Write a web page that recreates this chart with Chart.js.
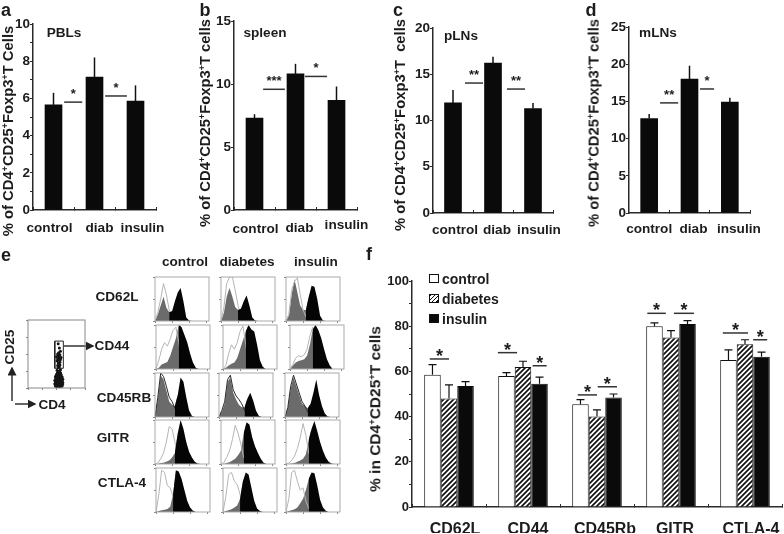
<!DOCTYPE html>
<html>
<head>
<meta charset="utf-8">
<script src="https://cdn.jsdelivr.net/npm/chart.js@4"></script>
<style>
  body { margin: 0; background: #fff; }
  #page { position: relative; width: 784px; height: 534px; overflow: hidden; font-family: "Liberation Sans", sans-serif; font-weight: bold; color: #1c1c1c; filter: blur(0.4px); }
  #page canvas { position: absolute; }
  .txt { position: absolute; white-space: nowrap; transform: translate(-50%, -50%); line-height: 1; }
  .txt sup { font-size: 60%; line-height: 0; vertical-align: 0.55em; }
  .swatch { position: absolute; width: 8px; height: 7px; border: 1px solid #111; }
  svg { position: absolute; left: 0; top: 0; }
</style>
</head>
<body>
<div id="page">
  <svg width="784" height="534">
    <defs>
      <marker id="head" markerWidth="6" markerHeight="6" refX="5" refY="3" orient="auto">
        <path d="M0,0 L6,3 L0,6 Z" fill="#222"></path>
      </marker>
    </defs>
    <line x1="12" y1="401" x2="12" y2="368" stroke="#333" stroke-width="1.5" marker-end="url(#head)"></line>
    <line x1="15" y1="404" x2="35" y2="404" stroke="#333" stroke-width="1.5" marker-end="url(#head)"></line>
    <line x1="64" y1="346" x2="93" y2="346" stroke="#333" stroke-width="1.5" marker-end="url(#head)"></line>
  </svg>
</div>
<script>
const groupLabels = ["control", "diab", "insulin"];

const valuesA = [5.65, 7.15, 5.85];
const errTopA = [6.3, 8.2, 6.7];
const valuesB = [7.3, 10.8, 8.7];
const errTopB = [7.6, 11.6, 9.8];
const valuesC = [11.9, 16.2, 11.3];
const errTopC = [13.3, 16.9, 11.9];
const valuesD = [12.7, 18, 14.9];
const errTopD = [13.3, 19.8, 15.5];

// [from, to, value, stars], from/to in category units
const sigA = [[0.26, 0.7, 5.8, "*"], [1.26, 1.79, 6.13, "*"]];
const sigB = [[0.21, 0.74, 9.58, "***"], [1.23, 1.77, 10.6, "*"]];
const sigC = [[0.3, 0.75, 14.05, "**"], [1.35, 1.8, 13.4, "**"]];
const sigD = [[0.27, 0.72, 14.8, "**"], [1.26, 1.61, 16.67, "*"]];

const markerLabels = ["CD62L", "CD44", "CD45Rb", "GITR", "CTLA-4"];
const controlValues = [58.5, 58, 45.5, 80, 65];
const controlErrTop = [63, 59.5, 47.5, 81.5, 69.5];
const diabetesValues = [48, 62, 40, 75, 72];
const diabetesErrTop = [54, 64.5, 43, 78, 74];
const insulinValues = [53.5, 54.5, 48.5, 81, 66.5];
const insulinErrTop = [55.5, 57.5, 50, 82.5, 68.5];
const sigF = [
  [-0.26, 0.0, 65.5, "*"], [0.66, 0.92, 68.3, "*"], [1.13, 1.32, 62.5, "*"],
  [1.74, 2.0, 49.6, "*"], [2.01, 2.27, 53.2, "*"], [2.68, 2.93, 85.7, "*"],
  [3.04, 3.31, 85.7, "*"], [3.7, 4.04, 77, "*"], [4.11, 4.3, 74, "*"],
];

// flow histograms, one row per marker, one list per column (control, diabetes, insulin)
const filledCd62l = [
  [0, 15, 35, 55, 30, 20, 22, 45, 65, 75, 45, 8, 1, 0],
  [0, 18, 55, 75, 55, 32, 25, 28, 45, 58, 35, 8, 1, 0],
  [0, 12, 60, 95, 65, 35, 25, 25, 55, 80, 78, 50, 12, 1, 0],
];
const outlineCd62l = [
  [0, 20, 50, 85, 60, 25, 12, 5, 2, 0],
  [0, 30, 85, 100, 100, 70, 35, 12, 4, 1, 0],
  [0, 15, 70, 90, 98, 60, 25, 10, 3, 0],
];
const gatesCd62l = [5, 6, 7];

const filledCd44 = [
  [0, 3, 10, 13, 16, 30, 50, 70, 100, 95, 78, 60, 35, 15, 3, 0],
  [0, 3, 8, 12, 15, 25, 45, 65, 85, 100, 90, 85, 55, 20, 5, 0],
  [0, 8, 15, 18, 20, 22, 30, 55, 90, 100, 88, 70, 45, 22, 8, 0],
];
const outlineCd44 = [
  [0, 20, 45, 60, 52, 68, 88, 95, 60, 20, 5, 0],
  [0, 8, 35, 55, 45, 60, 85, 98, 55, 15, 3, 0],
  [0, 10, 25, 30, 28, 32, 45, 75, 95, 50, 15, 3, 0],
];
const gatesCd44 = [8, 8, 8];

const filledCd45rb = [
  [0, 40, 95, 85, 60, 35, 28, 25, 50, 90, 80, 45, 15, 2, 0],
  [0, 12, 30, 80, 90, 55, 40, 28, 22, 22, 42, 55, 38, 15, 3, 0],
  [0, 20, 65, 90, 70, 50, 30, 25, 20, 30, 55, 85, 50, 25, 8, 1, 0],
];
const outlineCd45rb = [
  [0, 45, 100, 92, 70, 45, 35, 20, 8, 0],
  [0, 15, 35, 85, 95, 62, 48, 40, 30, 15, 5, 0],
  [0, 22, 70, 95, 75, 55, 35, 25, 12, 3, 0],
];
const gatesCd45rb = [7, 9, 8];

const filledGitr = [
  [0, 0, 2, 3, 5, 8, 15, 25, 70, 100, 80, 50, 28, 15, 5, 1, 0],
  [0, 0, 2, 4, 8, 12, 20, 30, 70, 95, 90, 60, 40, 25, 12, 3, 0],
  [0, 0, 1, 2, 5, 8, 12, 22, 55, 80, 98, 75, 50, 30, 15, 5, 1, 0],
];
const outlineGitr = [
  [0, 2, 12, 25, 50, 85, 80, 50, 20, 8, 2, 0],
  [0, 3, 15, 30, 55, 88, 70, 45, 15, 5, 0],
  [0, 2, 8, 18, 35, 60, 92, 65, 25, 10, 3, 0],
];
const gatesGitr = [7, 8, 8];

const filledCtla4 = [
  [0, 2, 4, 5, 7, 12, 40, 95, 92, 75, 50, 25, 10, 3, 0],
  [0, 2, 4, 6, 10, 15, 30, 70, 90, 85, 55, 25, 8, 2, 0],
  [0, 2, 4, 6, 10, 20, 30, 50, 75, 90, 88, 60, 28, 10, 3, 0],
];
const outlineCtla4 = [
  [0, 40, 95, 90, 60, 55, 35, 15, 5, 0],
  [0, 35, 85, 90, 70, 62, 40, 15, 5, 0],
  [0, 30, 90, 95, 70, 50, 55, 25, 8, 2, 0],
];
const gatesCtla4 = [6, 6, 8];

const histChannels = ["0", "1", "2", "3", "4", "5", "6", "7", "8", "9", "10", "11", "12", "13", "14", "15", "16", "17", "18", "19"];

// CD25 vs CD4 dot plot, percent of the frame
const dotX = [54, 51, 57, 48, 60, 52, 56, 49, 59, 54, 47, 61, 50, 58, 54, 52, 56, 48, 60, 50, 58, 54, 51, 57, 52, 56, 48, 61, 50, 58, 54, 52, 56, 49, 59, 48, 60, 54, 52, 56, 50, 58, 54, 51, 57, 53, 55, 54, 51, 57, 49, 59, 53, 55, 47, 61, 50, 58, 52, 56, 49, 59, 54, 51, 57, 48, 60, 53, 55, 50, 58, 54, 56, 52, 53, 55, 51, 57, 53, 55, 52, 56, 54, 53, 56, 51, 55, 57, 52, 54, 58, 50, 55, 53, 56, 52, 54, 57, 55, 53];
const dotY = [1, 2, 2, 3, 3, 4, 4, 5, 5, 5, 6, 6, 7, 7, 7, 8, 8, 9, 9, 10, 10, 10, 11, 11, 12, 12, 12, 13, 13, 13, 14, 14, 14, 15, 15, 16, 16, 16, 17, 17, 17, 18, 18, 19, 19, 20, 20, 21, 21, 22, 3, 4, 6, 9, 11, 8, 3, 12, 2, 15, 18, 14, 3, 17, 6, 7, 11, 1, 3, 20, 20, 22, 23, 23, 24, 25, 26, 27, 30, 31, 33, 34, 36, 37, 38, 40, 41, 42, 43, 44, 45, 46, 47, 48, 49, 50, 52, 54, 59, 65];
const gateBoxX = [47, 62, 62, 47, 47];
const gateBoxY = [29, 29, 69, 69, 29];

const inkColor = "#2a2a2a";
const fontFamily = '"Liberation Sans", sans-serif';
const page = document.getElementById("page");

function addText(html, x, y, size, rotate) {
  const el = document.createElement("div");
  el.className = "txt";
  el.innerHTML = html;
  el.style.left = `${x}px`;
  el.style.top = `${y}px`;
  el.style.fontSize = `${size}px`;
  if (rotate) {
    el.style.transform = `translate(-50%, -50%) rotate(${rotate}deg)`;
  }
  page.appendChild(el);
  return el;
}

function addCanvas(left, top, width, height) {
  const canvas = document.createElement("canvas");
  canvas.width = width;
  canvas.height = height;
  canvas.style.left = `${left}px`;
  canvas.style.top = `${top}px`;
  page.appendChild(canvas);
  return canvas;
}

function hatchPattern() {
  const tile = document.createElement("canvas");
  tile.width = 5;
  tile.height = 5;
  const t = tile.getContext("2d");
  t.fillStyle = "#fff";
  t.fillRect(0, 0, 5, 5);
  t.strokeStyle = "#111";
  t.lineWidth = 1.7;
  t.beginPath();
  t.moveTo(-1, 6);
  t.lineTo(6, -1);
  t.moveTo(-1, 1);
  t.lineTo(1, -1);
  t.moveTo(4, 6);
  t.lineTo(6, 4);
  t.stroke();
  return t.createPattern(tile, "repeat");
}

// whiskers, significance bars and shifted x labels (the labels sit off-centre in the original)
const barMarks = {
  id: "barMarks",
  beforeDraw(chart) {
    const opts = chart.options.plugins.barMarks;
    chart.scales.x.getLabelItems().forEach((item, i) => {
      if (!item.shifted) {
        item.options.translation[0] += opts.labelShift[i][0];
        item.options.translation[1] += opts.labelShift[i][1];
        item.shifted = true;
      }
    });
  },
  afterDatasetsDraw(chart) {
    const opts = chart.options.plugins.barMarks;
    const { ctx, scales } = chart;
    ctx.save();
    ctx.strokeStyle = "#111";
    ctx.lineWidth = opts.whiskerWidth;
    opts.errTops.forEach((tops, d) => {
      chart.getDatasetMeta(d).data.forEach((bar, i) => {
        const yTop = scales.y.getPixelForValue(tops[i]);
        ctx.beginPath();
        ctx.moveTo(bar.x, bar.y);
        ctx.lineTo(bar.x, yTop);
        if (opts.cap) {
          ctx.moveTo(bar.x - opts.cap, yTop);
          ctx.lineTo(bar.x + opts.cap, yTop);
        }
        ctx.stroke();
      });
    });
    ctx.strokeStyle = "#333";
    ctx.lineWidth = 1.5;
    ctx.fillStyle = "#1c1c1c";
    ctx.font = `bold ${opts.starSize}px ${fontFamily}`;
    ctx.textAlign = "center";
    ctx.textBaseline = "alphabetic";
    opts.sig.forEach(([from, to, value, stars]) => {
      const x1 = scales.x.getPixelForValue(from);
      const x2 = scales.x.getPixelForValue(to);
      const y = scales.y.getPixelForValue(value);
      ctx.beginPath();
      ctx.moveTo(x1, y);
      ctx.lineTo(x2, y);
      ctx.stroke();
      ctx.fillText(stars, (x1 + x2) / 2, y + opts.starDrop);
    });
    ctx.restore();
  },
};

function barChart(p) {
  const yWidth = 30;
  const xHeight = 26;
  const padTop = 10;
  const padRight = 30;
  const plotW = p.right - p.axisX;
  const plotH = p.bottomY - p.topY;
  const canvas = addCanvas(p.axisX - yWidth, p.topY - padTop, yWidth + plotW + padRight, padTop + plotH + xHeight);
  return new Chart(canvas, {
    type: "bar",
    data: { labels: p.labels, datasets: p.datasets },
    plugins: [barMarks],
    options: {
      responsive: false,
      animation: false,
      layout: { padding: { top: padTop, right: padRight, left: 0, bottom: 0 } },
      plugins: {
        legend: { display: false },
        tooltip: { enabled: false },
        barMarks: {
          errTops: p.errTops,
          sig: p.sig,
          labelShift: p.labelShift,
          whiskerWidth: p.whiskerWidth,
          cap: p.cap,
          starSize: p.starSize,
          starDrop: p.starDrop,
        },
      },
      scales: {
        x: {
          border: { color: inkColor, width: 1.5 },
          grid: { drawOnChartArea: false, tickLength: -3, color: inkColor },
          ticks: { color: "#1c1c1c", padding: p.xPadding, maxRotation: 0, autoSkip: false, font: { family: fontFamily, weight: "bold", size: p.xFont } },
          afterFit(s) {
            s.height = xHeight;
            s.paddingLeft = 0;
            s.paddingRight = 0;
          },
        },
        y: {
          min: 0,
          max: p.max,
          border: { color: inkColor, width: 1.5 },
          grid: { drawOnChartArea: false, tickLength: 3, color: inkColor },
          ticks: {
            stepSize: p.step,
            autoSkip: false,
            color: "#1c1c1c",
            padding: 0,
            font: { family: fontFamily, weight: "bold", size: p.yFont },
            callback: (v) => (v % p.labelEvery === 0 ? v : ""),
          },
          afterFit(s) {
            s.width = yWidth;
            s.paddingTop = 0;
            s.paddingBottom = 0;
          },
        },
      },
    },
  });
}

function blackBars(values) {
  return [{ data: values, backgroundColor: "#0a0a0a", barThickness: 17 }];
}

const smallPanel = { labels: groupLabels, whiskerWidth: 1.5, cap: 0, starSize: 13, starDrop: -4, xPadding: 13, xFont: 13.6, yFont: 13.5 };

barChart({ ...smallPanel, axisX: 33, right: 156, topY: 24, bottomY: 210, max: 10, step: 1, labelEvery: 2, datasets: blackBars(valuesA), errTops: [errTopA], sig: sigA, labelShift: [[-4, 0], [5, 0], [7, 0]] });
barChart({ ...smallPanel, axisX: 234, right: 357, topY: 21, bottomY: 210, max: 15, step: 5, labelEvery: 5, datasets: blackBars(valuesB), errTops: [errTopB], sig: sigB, labelShift: [[1, 1], [4, 0], [10, -3]] });
barChart({ ...smallPanel, axisX: 433, right: 553, topY: 28, bottomY: 213, max: 20, step: 5, labelEvery: 5, datasets: blackBars(valuesC), errTops: [errTopC], sig: sigC, labelShift: [[2, -1], [4, -1], [6, -1]] });
barChart({ ...smallPanel, axisX: 629, right: 750, topY: 27, bottomY: 213, max: 25, step: 5, labelEvery: 5, datasets: blackBars(valuesD), errTops: [errTopD], sig: sigD, labelShift: [[0, -2], [4, -2], [9, -2]] });

barChart({
  labels: markerLabels,
  axisX: 412,
  right: 782,
  topY: 281,
  bottomY: 507,
  max: 100,
  step: 10,
  labelEvery: 20,
  whiskerWidth: 1.2,
  cap: 4,
  starSize: 18,
  starDrop: 3,
  xPadding: 16,
  xFont: 16,
  yFont: 13,
  errTops: [controlErrTop, diabetesErrTop, insulinErrTop],
  sig: sigF,
  labelShift: [[6, 0], [5, 0], [8, 0], [4, 0], [6, 0]],
  datasets: [
    { label: "control", data: controlValues, backgroundColor: "#fff", borderColor: "#111", borderWidth: 1, categoryPercentage: 0.67, barPercentage: 1 },
    { label: "diabetes", data: diabetesValues, backgroundColor: hatchPattern(), borderColor: "#111", borderWidth: 1, categoryPercentage: 0.67, barPercentage: 1 },
    { label: "insulin", data: insulinValues, backgroundColor: "#0a0a0a", borderColor: "#0a0a0a", borderWidth: 1, categoryPercentage: 0.67, barPercentage: 1 },
  ],
});

// frame around the flow plots
const framePlugin = {
  id: "frame",
  afterDraw(chart) {
    const { ctx, chartArea: a } = chart;
    ctx.save();
    ctx.strokeStyle = chart.options.plugins.frame.color;
    ctx.lineWidth = 1;
    ctx.strokeRect(a.left, a.top, a.right - a.left, a.bottom - a.top);
    ctx.restore();
  },
};

function smallAxis(max, step) {
  return {
    min: 0,
    max,
    border: { display: false },
    grid: { drawOnChartArea: false, tickLength: 2, color: "#888" },
    ticks: { display: false, stepSize: step },
  };
}

function histChart(left, top, filled, outline, gate, outlineColor) {
  const canvas = addCanvas(left - 3, top - 1, 53 + 5, 43 + 4);
  const xAxis = { type: "category", border: { display: false }, grid: { drawOnChartArea: false, tickLength: 2, color: "#888", offset: false }, ticks: { display: false, autoSkip: false, callback: (v, i) => (i % 6 === 0 ? "" : null) }, offset: false };
  new Chart(canvas, {
    type: "line",
    data: {
      labels: histChannels,
      // first dataset is painted last: black hides the outline, the outline sits over the grey,
      // and the grey part runs one bin under the black one
      datasets: [
        { data: filled.map((v, i) => (i >= gate ? v : null)), fill: "origin", backgroundColor: "#050505", borderWidth: 0, pointRadius: 0, tension: 0 },
        { data: outline, fill: false, borderColor: outlineColor, borderWidth: 1, pointRadius: 0, tension: 0 },
        { data: filled.map((v, i) => (i <= gate + 1 ? v : null)), fill: "origin", backgroundColor: "#6b6b6b", borderWidth: 0, pointRadius: 0, tension: 0 },
      ],
    },
    plugins: [framePlugin],
    options: {
      responsive: false,
      animation: false,
      layout: { padding: { top: 1, right: 2, left: 0, bottom: 0 } },
      plugins: { legend: { display: false }, tooltip: { enabled: false }, frame: { color: "#aaa" } },
      scales: { x: xAxis, y: smallAxis(100, 50) },
    },
  });
}

const rowTops = [277, 325, 373, 420, 468];
const rowLefts = [
  [156, 222, 287],
  [157, 224, 291],
  [156, 220, 286],
  [156, 222, 287],
  [157, 224, 287],
];
const histRows = [
  [filledCd62l, outlineCd62l, gatesCd62l, "#b5b5b5"],
  [filledCd44, outlineCd44, gatesCd44, "#b5b5b5"],
  [filledCd45rb, outlineCd45rb, gatesCd45rb, "#2a2a2a"],
  [filledGitr, outlineGitr, gatesGitr, "#b5b5b5"],
  [filledCtla4, outlineCtla4, gatesCtla4, "#b5b5b5"],
];
histRows.forEach(([filled, outline, gates, color], r) => {
  [0, 1, 2].forEach((c) => {
    histChart(rowLefts[r][c], rowTops[r], filled[c], outline[c], gates[c], color);
  });
});

// dot plot
new Chart(addCanvas(24, 316, 65, 76), {
  type: "scatter",
  data: {
    datasets: [
      { data: dotX.map((x, i) => ({ x, y: dotY[i] })), backgroundColor: "#151515", pointRadius: 1.5, borderWidth: 0 },
      { data: gateBoxX.map((x, i) => ({ x, y: gateBoxY[i] })), showLine: true, borderColor: "#222", borderWidth: 1, pointRadius: 0 },
    ],
  },
  plugins: [framePlugin],
  options: {
    responsive: false,
    animation: false,
    layout: { padding: { top: 2, right: 2, left: 0, bottom: 0 } },
    plugins: { legend: { display: false }, tooltip: { enabled: false }, frame: { color: "#888" } },
    scales: { x: smallAxis(100, 25), y: smallAxis(100, 25) },
  },
});

// text
addText("a", 6, 10, 18);
addText("b", 205, 10, 18);
addText("c", 398, 10, 18);
addText("d", 591, 10, 18);
addText("e", 6, 255, 18);
addText("f", 369, 254, 18);

addText("PBLs", 64, 33, 13.6);
addText("spleen", 265, 33, 13.6);
addText("pLNs", 461, 36, 13.6);
addText("mLNs", 658, 33, 13.6);

addText("% of CD4<sup>+</sup>CD25<sup>+</sup>Foxp3<sup>+</sup>T Cells", 8, 131, 14.8, -90);
addText("% of CD4<sup>+</sup>CD25<sup>+</sup>Foxp3<sup>+</sup>T cells", 205, 123, 14.8, -90);
addText("% of CD4<sup>+</sup>CD25<sup>+</sup>Foxp3<sup>+</sup>T&nbsp; cells", 400, 125, 14.8, -90);
addText("% of CD4<sup>+</sup>CD25<sup>+</sup>Foxp3<sup>+</sup>T cells", 594, 123, 14.8, -90);
addText("% in CD4<sup>+</sup>CD25<sup>+</sup>T cells", 375, 409, 15.5, -90);

addText("control", 185, 262, 13.6);
addText("diabetes", 247, 262, 13.6);
addText("insulin", 316, 262, 13.6);
addText("CD62L", 117, 297, 13.6);
addText("CD44", 112, 346, 13.6);
addText("CD45RB", 124, 398, 13.6);
addText("GITR", 113, 438, 13.6);
addText("CTLA-4", 122, 483, 13.6);
addText("CD25", 10, 347, 13.6, -90);
addText("CD4", 52, 405, 13.6);

// legend of panel f
const legendRows = [
  ["control", "#fff", 274],
  ["diabetes", "", 294],
  ["insulin", "#0a0a0a", 314],
];
legendRows.forEach(([name, fill, top]) => {
  const swatch = document.createElement("div");
  swatch.className = "swatch";
  swatch.style.left = "429px";
  swatch.style.top = `${top}px`;
  swatch.style.background = fill || "repeating-linear-gradient(135deg, #111 0 1px, #fff 1px 3px)";
  page.appendChild(swatch);
  const t = addText(name, 442, top + 4.5, 14);
  t.style.transform = "translate(0, -50%)";
});
</script>
</body>
</html>
